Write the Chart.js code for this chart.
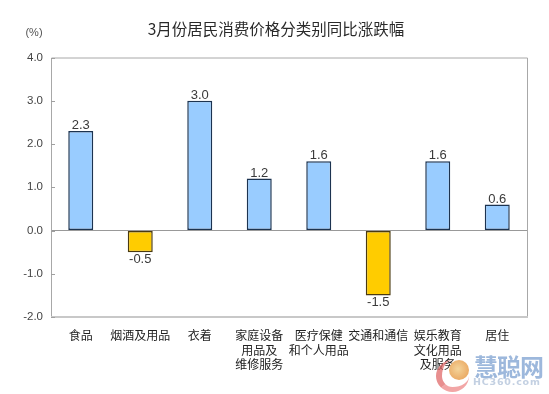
<!DOCTYPE html>
<html><head><meta charset="utf-8">
<style>
html,body{margin:0;padding:0;background:#fff;width:549px;height:394px;overflow:hidden}
#w{position:relative;width:549px;height:394px}
canvas{position:absolute;left:0;top:0}
.m{position:absolute;white-space:nowrap}
</style>
<script src="https://cdn.jsdelivr.net/npm/chart.js@4"></script>
</head><body><div id="w"><canvas id="c" width="549" height="394"></canvas>
<div class="m" style="left:436px;top:360px;width:27px;height:27px;border-left:6px solid #e06a6a;border-bottom:5px solid #e88;border-radius:50%;opacity:.75"></div>
<div class="m" style="left:449px;top:360px;width:20px;height:20px;border-radius:50%;background:radial-gradient(circle at 45% 45%,#f4d49a,#e79a50)"></div>
<div class="m" style="left:474px;top:352px;font:bold 24px 'Noto Sans CJK SC';line-height:28px;color:#9db8dc;letter-spacing:-1px">慧聪网</div>
<div class="m" style="left:473px;top:376px;font:bold 9.5px 'DejaVu Sans';color:#c3d0e2;letter-spacing:.8px">HC360.com</div>
</div>
<script>
const categories=['食品','烟酒及用品','衣着',['家庭设备','用品及','维修服务'],['医疗保健','和个人用品'],'交通和通信',['娱乐教育','文化用品','及服务'],'居住'];
const values=[2.3,-0.5,3.0,1.2,1.6,-1.5,1.6,0.6];
const yTicks=[4,3,2,1,0,-1,-2];
const titleText='3月份居民消费价格分类别同比涨跌幅';
const unitText='(%)';
const posColor='#99CCFF',negColor='#FFCC00';
const cjk="'Noto Sans CJK SC'";
const lat="'Liberation Sans'";
const overlay={id:'overlay',
 afterDraw(ch){
  const {ctx,chartArea:a,scales:{x,y}}=ch;
  ctx.save();
  ctx.strokeStyle='#a8a8a8';ctx.lineWidth=1;ctx.beginPath();
  ctx.moveTo(a.left+.5,a.bottom);ctx.lineTo(a.left+.5,a.top+.5);ctx.lineTo(a.right+.5,a.top+.5);ctx.lineTo(a.right+.5,a.bottom);ctx.stroke();
  ctx.strokeStyle='#c8c8c8';ctx.lineWidth=2;ctx.beginPath();ctx.moveTo(a.left,a.bottom);ctx.lineTo(a.right+1,a.bottom);ctx.stroke();
  ctx.strokeStyle='#a0a0a0';ctx.lineWidth=1;
  yTicks.forEach(t=>{const p=Math.round(y.getPixelForValue(t))+.5;ctx.beginPath();ctx.moveTo(a.left,p);ctx.lineTo(a.left+4,p);ctx.stroke();});
  ctx.fillStyle='#3a3a3a';ctx.font='13px '+lat;ctx.textAlign='center';
  const meta=ch.getDatasetMeta(0);
  values.forEach((v,i)=>{const b=meta.data[i];
    if(v>=0){ctx.textBaseline='bottom';ctx.fillText(v.toFixed(1),b.x,b.y+1);}
    else{ctx.textBaseline='top';ctx.fillText(v.toFixed(1),b.x,b.y+1);}
  });
  ctx.fillStyle='#555';ctx.font='11px '+lat;ctx.textBaseline='middle';ctx.fillText(unitText,34,33);
  ctx.fillStyle='#2a2a2a';ctx.font='15.5px '+cjk;ctx.fillText(titleText,276,29);
  ctx.restore();
 }};
new Chart(document.getElementById('c'),{type:'bar',
 data:{labels:categories,datasets:[{data:values,
   backgroundColor:values.map(v=>v<0?negColor:posColor),
   borderColor:values.map(v=>v<0?'#4a3a10':'#1c3350'),
   borderWidth:1.5,borderSkipped:false,
   categoryPercentage:1,barPercentage:0.42}]},
 plugins:[overlay],
 options:{responsive:false,animation:false,
  layout:{padding:{top:57.5,right:22,left:0,bottom:0}},
  plugins:{legend:{display:false},tooltip:{enabled:false},title:{display:false}},
  scales:{
   x:{grid:{display:false},border:{display:false},
      afterFit(s){s.height=77;},
      ticks:{color:'#222',font:{family:cjk,size:12,lineHeight:1.22},padding:3,maxRotation:0,minRotation:0,autoSkip:false}},
   y:{min:-2,max:4,
      afterFit(s){s.width=51;},
      afterBuildTicks(s){s.ticks=yTicks.map(v=>({value:v}));},
      border:{display:false},
      grid:{drawTicks:false,lineWidth:1,color:c=>c.tick&&c.tick.value===0?'#999':'transparent'},
      ticks:{color:'#444',padding:8,font:{family:lat,size:11.5},callback:v=>Number(v).toFixed(1)}}
  }}});
</script></body></html>
